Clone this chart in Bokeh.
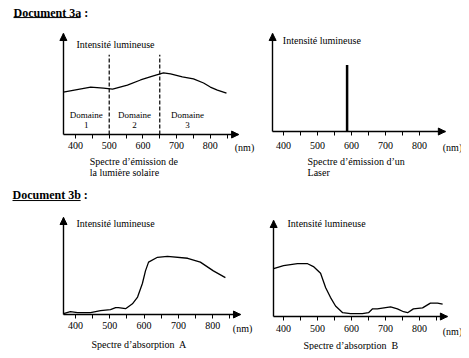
from bokeh.plotting import figure
from bokeh.models import FixedTicker, Label, Arrow, NormalHead
from bokeh.layouts import column, row
from bokeh.embed import file_html
from bokeh.resources import INLINE

FONT = "Liberation Serif"

# ---------------- data ----------------
tick_labels = [400, 500, 600, 700, 800]
minor_ticks = [450, 550, 650, 750, 850]

sol_nm = [364, 445, 483, 510, 554, 593, 631, 661, 682, 717, 750, 780, 800, 821, 848]
sol_int = [42, 47, 46, 45, 49, 54, 58, 61, 60, 57, 55, 51, 47, 44, 41]
domain_bounds = [500, 650]
domain_top = 79
domain_centers = [432, 575, 732]
domain_names = ["1", "2", "3"]

laser_nm = 587
laser_int = 68

abs_a_nm = [365, 385, 406, 444, 473, 502, 517, 525, 546, 566, 581, 595, 604, 613, 639, 668, 727, 764, 802, 837]
abs_a_int = [1, 3, 2, 2, 4, 5, 7, 7, 6, 11, 18, 32, 45, 54, 59, 60, 58, 54, 45, 38]

abs_b_nm = [371, 400, 441, 471, 488, 509, 524, 538, 553, 574, 597, 632, 650, 662, 676, 715, 735, 753, 765, 782, 809, 832, 853, 868]
abs_b_int = [50, 53, 55, 55, 52, 45, 30, 20, 11, 4, 3, 3, 4, 8, 8, 10, 8, 5, 4, 8, 9, 14, 14, 13]


def label(p, x, y, text, size="10px", align="left", weight="normal"):
    p.add_layout(Label(x=x, y=y, text=text, text_font=FONT, text_font_size=size,
                       text_baseline="middle", text_align=align,
                       text_font_style=weight, text_color="black"))


def panel(width, height, xr, yr, axis_x, minors, standoff,
          ylab_x, ylab_y, nm_x, nm_y, cap_x, cap_lines, cap_y0, cap_dy):
    p = figure(width=width, height=height, x_range=xr, y_range=yr,
               output_backend="svg", toolbar_location=None, min_border=0)
    p.outline_line_color = None
    p.xgrid.visible = False
    p.ygrid.visible = False
    p.background_fill_color = "white"
    p.border_fill_color = "white"
    ax = p.xaxis[0]
    ax.fixed_location = 0
    ax.bounds = axis_x
    ax.ticker = FixedTicker(ticks=tick_labels, minor_ticks=minors)
    ax.axis_line_width = 1.4
    ax.axis_line_color = "black"
    ax.major_tick_in = 0
    ax.major_tick_out = 4
    ax.minor_tick_in = 0
    ax.minor_tick_out = 4
    ax.major_tick_line_color = "black"
    ax.minor_tick_line_color = "black"
    ax.major_label_standoff = standoff
    ax.major_label_text_font = FONT
    ax.major_label_text_font_size = "10px"
    ax.major_label_text_color = "black"
    ay = p.yaxis[0]
    ay.fixed_location = axis_x[0]
    ay.bounds = (0, 100)
    ay.ticker = FixedTicker(ticks=[])
    ay.axis_line_width = 1.4
    ay.axis_line_color = "black"
    ay.major_tick_line_color = None
    ay.minor_tick_line_color = None
    ay.major_label_text_font_size = "0px"
    # arrow heads
    p.add_layout(Arrow(end=NormalHead(size=7, fill_color="black", line_color="black"),
                       x_start=axis_x[1] - 1, y_start=0, x_end=axis_x[1], y_end=0,
                       line_color="black", line_width=1))
    p.add_layout(Arrow(end=NormalHead(size=7, fill_color="black", line_color="black"),
                       x_start=axis_x[0], y_start=99, x_end=axis_x[0], y_end=100,
                       line_color="black", line_width=1))
    label(p, ylab_x, ylab_y, "Intensité lumineuse")
    label(p, nm_x, nm_y, "(nm)", align="center")
    for i, line in enumerate(cap_lines):
        label(p, cap_x, cap_y0 - cap_dy * i, line)
    return p


# Panel 1 : solar emission
p1 = panel(255, 182, (177.4, 934.1), (-47.5, 132.7), (364, 884), minor_ticks, 3,
           403, 89, 901.5, -12.9, 442,
           ["Spectre d’émission de", "la lumière solaire"], -26.7, 10.9)
p1.line(sol_nm, sol_int, line_color="black", line_width=1.3)
p1.segment(x0=domain_bounds, y0=[0, 0], x1=domain_bounds, y1=[domain_top, domain_top],
           line_color="black", line_width=1.2, line_dash="4 2")
for cx, nm in zip(domain_centers, domain_names):
    label(p1, cx, 19, "Domaine", size="9px", align="center")
    label(p1, cx, 9, nm, size="9px", align="center")
label(p1, 216, 120.8, "Document 3a :", size="12px", weight="bold")
p1.segment(x0=[216], y0=[115.8], x1=[415], y1=[115.8], line_color="black", line_width=1)

# Panel 2 : laser
p2 = panel(206, 182, (317.6, 923.5), (-52.0, 133.7), (368, 876), minor_ticks[:-1], 6,
           398, 92.9, 897, -16.3, 470.6,
           ["Spectre d’émission d’un", "Laser"], -30.6, 11.2)
p2.segment(x0=[laser_nm], y0=[0], x1=[laser_nm], y1=[laser_int],
           line_color="black", line_width=2.5)

# Panel 3 : absorption A
p3 = panel(255, 168, (181.3, 924.8), (-37.1, 136.1), (365, 881), minor_ticks, 3,
           403, 93.8, 887, -14.4, 446.6,
           ["Spectre d’absorption\u00a0 A"], -30.4, 0)
p3.line(abs_a_nm, abs_a_int, line_color="black", line_width=1.3)
label(p3, 216.3, 122.7, "Document 3b :", size="12px", weight="bold")
p3.segment(x0=[216.3], y0=[117.5], x1=[415], y1=[117.5], line_color="black", line_width=1)

# Panel 4 : absorption B
p4 = panel(206, 168, (317.6, 923.5), (-35.4, 139.6), (371, 882), minor_ticks, 4,
           411.8, 96.9, 897, -15.6, 458.8,
           ["Spectre d’absorption\u00a0 B"], -29.8, 0)
p4.line(abs_b_nm, abs_b_int, line_color="black", line_width=1.3)

layout = column(row(p1, p2), row(p3, p4))

open("out.html", "w").write(file_html(layout, INLINE))
